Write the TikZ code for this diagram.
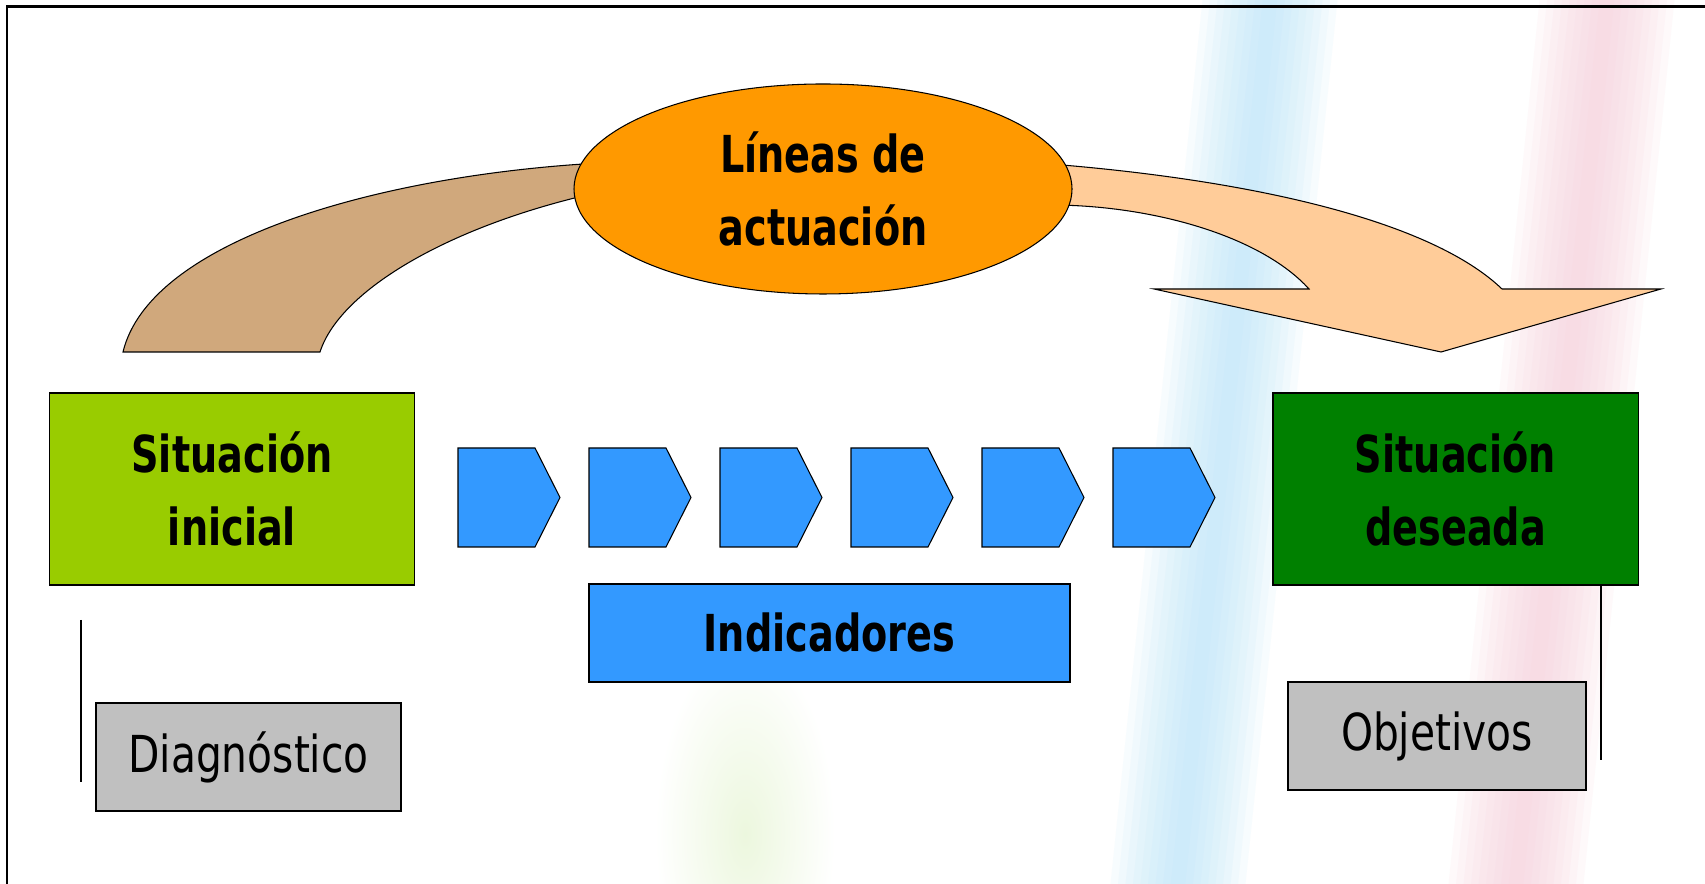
\documentclass[tikz,border=0pt]{standalone}
\usepackage{fontspec}
\newfontfamily\slidefont[FakeStretch=0.75]{DejaVu Sans}
\newfontfamily\slidelight[FakeStretch=0.8]{DejaVu Sans}
\usetikzlibrary{shapes.geometric}
\definecolor{limegreen}{RGB}{153,204,0}
\definecolor{deepgreen}{RGB}{0,128,0}
\definecolor{chevblue}{RGB}{51,153,255}
\definecolor{boxgray}{RGB}{192,192,192}
\definecolor{ovalorange}{RGB}{255,153,0}
\definecolor{tanband}{RGB}{208,168,124}
\definecolor{peachband}{RGB}{255,204,153}
\definecolor{washblue}{RGB}{185,228,250}
\definecolor{washpink}{RGB}{248,205,218}
\definecolor{washgreen}{RGB}{236,247,222}

\begin{document}
\begin{tikzpicture}[
	outline/.style={draw=black, line width=0.6pt},
	boldtext/.style={font=\slidefont\bfseries\fontsize{29}{41}\selectfont, align=center},
	lighttext/.style={font=\slidelight\fontsize{29}{41}\selectfont, align=center},
	situbox/.style={outline, rectangle, boldtext, minimum width=7.3cm, minimum height=3.84cm},
	notebox/.style={outline, rectangle, lighttext, fill=boxgray, minimum width=6cm, minimum height=2.16cm}
]
	\useasboundingbox (0,0) rectangle (34.1,17.68);
	\fill[white] (0,0) rectangle (34.1,17.68);

	% faint background wash
	\shade[inner color=washgreen, outer color=white] (14.9,1.0) ellipse (1.8 and 3.8);
	\foreach \w in {0.15,0.3,...,1.5} {
		\fill[washblue, opacity=0.11] (23.56-\w,0) -- (23.56+\w,0) -- (25.4+\w,17.68) -- (25.4-\w,17.68) -- cycle;
		\fill[washpink, opacity=0.11] (30.32-\w,0) -- (30.32+\w,0) -- (32.14+\w,17.68) -- (32.14-\w,17.68) -- cycle;
	}

	% frame
	\draw[line width=1.7pt] (0.14,-1) |- (35,17.54);

	% curved bands
	\draw[outline, fill=tanband] (2.46,10.64) .. controls (3.0,12.88) and (7.6,14.18) .. (12.0,14.42)
		-- (12.0,13.84) .. controls (9.0,13.18) and (6.8,11.88) .. (6.40,10.64) -- cycle;
	\draw[outline, fill=peachband] (21.0,14.4) .. controls (25.0,14.08) and (28.6,13.28) .. (30.04,11.9)
		-- (33.22,11.9) -- (28.82,10.64) -- (23.08,11.9) -- (26.18,11.9)
		.. controls (25.2,12.98) and (23.0,13.58) .. (21.0,13.58) -- cycle;

	\node[ellipse, outline, fill=ovalorange, boldtext, minimum width=9.96cm, minimum height=4.2cm, inner sep=0pt] (lineas) at (16.46,13.9) {Líneas de\\actuación};

	\node[situbox, fill=limegreen] (sitini) at (4.64,7.9) {Situación\\inicial};
	\node[situbox, fill=deepgreen] (sitdes) at (29.11,7.9) {Situación\\deseada};

	\foreach \i in {0,...,5}
		\draw[outline, fill=chevblue] ({9.16+2.62*\i},6.74) -- ++(1.54,0) -- ++(0.5,0.99) -- ++(-0.5,0.99) -- ++(-1.54,0) -- cycle;

	\node[outline, rectangle, boldtext, fill=chevblue, minimum width=9.62cm, minimum height=1.96cm] (indic) at (16.59,5.02) {Indicadores};

	\node[notebox, minimum width=6.1cm] (diag) at (4.97,2.54) {Diagnóstico};
	\node[notebox, minimum width=5.96cm] (obj) at (28.74,2.96) {Objetivos};

	\coordinate (diagtop) at (1.62,5.28);
	\coordinate (diagbot) at (1.62,2.04);
	\coordinate (objbot) at (32.02,2.48);
	\draw[outline] (diagtop) -- (diagbot);
	\draw[outline] (sitdes.south -| objbot) -- (objbot);
\end{tikzpicture}
\end{document}
